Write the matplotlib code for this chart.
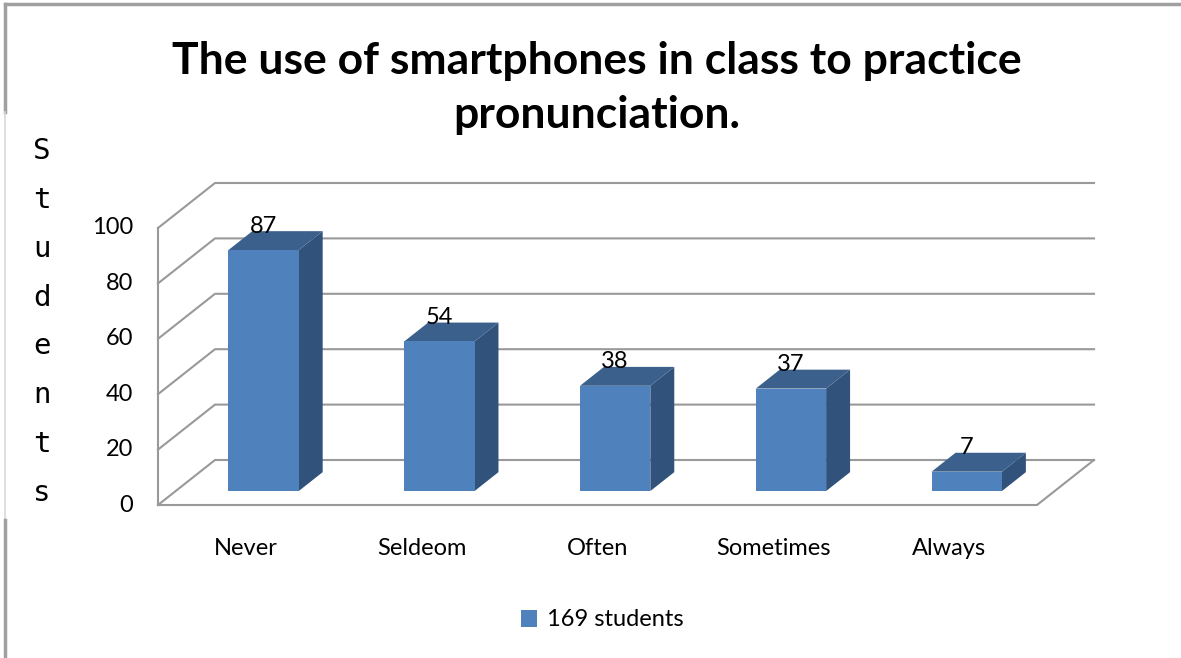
import matplotlib.pyplot as plt
from matplotlib import patches
from matplotlib import lines

categories = ['Never', 'Seldeom', 'Often', 'Sometimes', 'Always']
counts = [87, 54, 38, 37, 7]
yticks = [0, 20, 40, 60, 80, 100]
series_name = '169 students'
title = 'The use of smartphones in class to practice\npronunciation.'
ylabel = 'Students'

W, H = 1181, 658
font = 'Lato'

# oblique projection: depth z in [0, 1] shifts right (category units) and up (value units)
KX = 57 / 175.8
KY = 45 / 2.77
Z0, Z1 = 0.31, 0.73
HALF = 0.2

front_col = '#4f81bd'
top_col = '#3c608c'
side_col = '#31527a'
grid_col = '#999999'


def proj(x, y, z):
    return x + z*KX, y + z*KY


fig = plt.figure(figsize=(W/100, H/100), dpi=100)
fig.patch.set_facecolor('white')
ax = fig.add_axes([158/W, (H-505)/H, 879/W, 277/H])
ax.set_xlim(0, len(categories))
ax.set_ylim(0, yticks[-1])
ax.axis('off')

n = len(categories)

# walls and floor
for v in yticks:
    pts = [proj(0, v, 0), proj(0, v, 1), proj(n, v, 1)]
    ax.add_line(lines.Line2D([p[0] for p in pts], [p[1] for p in pts],
                             color=grid_col, linewidth=1.5, clip_on=False, zorder=1))
ax.add_line(lines.Line2D([0, 0], [0, yticks[-1]], color=grid_col, linewidth=1.5,
                         clip_on=False, zorder=1))
floor = [proj(0, 0, 0), proj(n, 0, 0), proj(n, 0, 1)]
ax.add_line(lines.Line2D([p[0] for p in floor], [p[1] for p in floor],
                         color=grid_col, linewidth=1.5, clip_on=False, zorder=1))

# bars
for i, v in enumerate(counts):
    cx = i + 0.5
    x0, x1 = cx - HALF, cx + HALF
    front = [proj(x0, 0, Z0), proj(x1, 0, Z0), proj(x1, v, Z0), proj(x0, v, Z0)]
    top = [proj(x0, v, Z0), proj(x1, v, Z0), proj(x1, v, Z1), proj(x0, v, Z1)]
    side = [proj(x1, 0, Z0), proj(x1, 0, Z1), proj(x1, v, Z1), proj(x1, v, Z0)]
    ax.add_patch(patches.Polygon(side, closed=True, facecolor=side_col,
                                 edgecolor='none', clip_on=False, zorder=3))
    ax.add_patch(patches.Polygon(top, closed=True, facecolor=top_col,
                                 edgecolor='none', clip_on=False, zorder=3))
    ax.add_patch(patches.Polygon(front, closed=True, facecolor=front_col,
                                 edgecolor='none', clip_on=False, zorder=3,
                                 label=series_name if i == 0 else None))
    ax.annotate(str(v), proj(cx, v, Z0), xytext=(0, 12.5), textcoords='offset points',
                ha='center', va='baseline', fontsize=17, family=font, zorder=5)
    ax.annotate(categories[i], proj(cx, 0, 0), xytext=(0, -31), textcoords='offset points',
                ha='center', va='center', fontsize=17, family=font)

for v in yticks:
    ax.annotate(str(v), proj(0, v, 0), xytext=(-18, 0), textcoords='offset points',
                ha='right', va='center', fontsize=17, family=font)

# chart frame
fig.add_artist(lines.Line2D([5/W, 1], [1-4/H, 1-4/H], color='#a0a0a0', linewidth=2.5))
fig.add_artist(lines.Line2D([5/W, 5/W], [1-4/H, 1-112/H], color='#a0a0a0', linewidth=2.5))
fig.add_artist(lines.Line2D([5/W, 5/W], [1-112/H, 1-520/H], color='#d8d8d8', linewidth=1.2))
fig.add_artist(lines.Line2D([5/W, 5/W], [1-520/H, 0], color='#a0a0a0', linewidth=2.5))

fig.text(597/W, 1-88/H, title, ha='center', va='center', fontsize=32,
         fontweight='bold', family=font, linespacing=1.45)

fig.text(42/W, 1-322/H, '\n'.join(ylabel), ha='center', va='center', fontsize=21,
         family='DejaVu Sans Mono', linespacing=1.95)

fig.legend(loc='center', bbox_to_anchor=(602/W, 1-620/H), frameon=False,
           handlelength=0.7, handleheight=0.7, handletextpad=0.4,
           prop={'family': font, 'size': 17})

fig.savefig('out.png', dpi=100)
